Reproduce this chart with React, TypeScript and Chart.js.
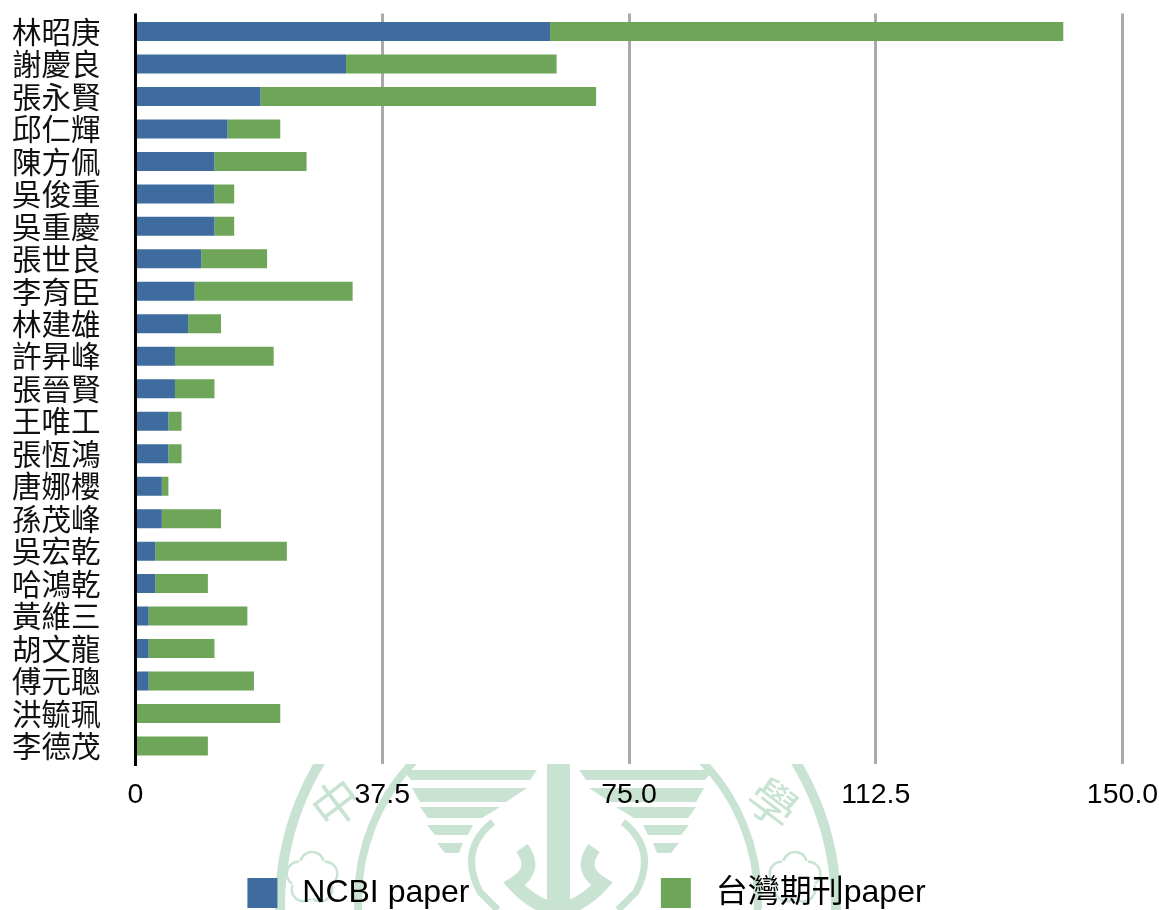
import React, { useEffect, useRef } from "react";
import { Chart, registerables } from "chart.js";

Chart.register(...registerables);

const authors = ["林昭庚","謝慶良","張永賢","邱仁輝","陳方佩","吳俊重","吳重慶","張世良","李育臣","林建雄","許昇峰","張晉賢","王唯工","張恆鴻","唐娜櫻","孫茂峰","吳宏乾","哈鴻乾","黃維三","胡文龍","傅元聰","洪毓珮","李德茂"];
const ncbiPapers = [63,32,19,14,12,12,12,10,9,8,6,6,5,5,4,4,3,3,2,2,2,0,0];
const taiwanPapers = [78,32,51,8,14,3,3,10,24,5,15,6,2,2,1,9,20,8,15,10,16,22,11];
const xTickLabels = ["0","37.5","75.0","112.5","150.0"];
const seriesNames = ["NCBI paper","台灣期刊paper"];
const seriesColors = ["#3e6c9f","#6ea559"];

const CJK = '"Liberation Sans", "Noto Sans CJK TC", sans-serif';
const MARK = "#c9e3d3";

// Faint seal showing through below the plot
const sealPlugin = {
  id: "seal",
  beforeDraw(chart: any) {
    const { ctx, width, height } = chart;
    ctx.save();
    ctx.fillStyle = "#fff";
    ctx.fillRect(0, 0, width, height);
    ctx.beginPath();
    ctx.rect(0, 764, width, height - 764);
    ctx.clip();
    ctx.strokeStyle = MARK;
    ctx.fillStyle = MARK;
    const cx = 558;
    ctx.lineWidth = 10;
    ctx.beginPath(); ctx.arc(cx, 906, 278, 0, Math.PI * 2); ctx.stroke();
    ctx.lineWidth = 8;
    ctx.beginPath(); ctx.arc(cx, 900, 200, 0, Math.PI * 2); ctx.stroke();
    const bands = [[770,780,155,21,28],[788,802,146,31,52],[807,818,138,58,76],[825,835,131,85,90],[843,853,121,95,99]];
    for (const [t, b, o, i, i2] of bands) {
      for (const s of [-1, 1]) {
        ctx.beginPath();
        ctx.moveTo(cx + s * o, t);
        ctx.lineTo(cx + s * i, t);
        ctx.lineTo(cx + s * i2, b);
        ctx.lineTo(cx + s * (o - 8), b);
        ctx.closePath();
        ctx.fill();
      }
    }
    ctx.fillRect(547, 764, 23, 146);
    ctx.lineWidth = 7;
    for (const s of [-1, 1]) {
      ctx.beginPath();
      ctx.moveTo(cx + s * 65, 822);
      ctx.quadraticCurveTo(cx + s * 100, 850, cx + s * 78, 892);
      ctx.lineTo(cx + s * 60, 910);
      ctx.stroke();
    }
    ctx.lineWidth = 14;
    for (const s of [-1, 1]) {
      ctx.beginPath();
      ctx.moveTo(cx + s * 36, 848);
      ctx.quadraticCurveTo(cx + s * 20, 870, cx + s * 44, 884);
      ctx.quadraticCurveTo(cx + s * 30, 900, cx + s * 10, 908);
      ctx.stroke();
    }
    ctx.lineWidth = 2.5;
    for (const fx of [312, 795]) {
      for (let k = 0; k < 5; k++) {
        const a = -Math.PI / 2 + (k * 2 * Math.PI) / 5;
        ctx.beginPath();
        ctx.arc(fx + Math.cos(a) * 14, 878 + Math.sin(a) * 14, 12, a - 1.3, a + 1.3);
        ctx.stroke();
      }
    }
    ctx.textAlign = "center";
    ctx.textBaseline = "middle";
    ctx.font = '48px "Noto Sans CJK TC"';
    ctx.translate(336, 803);
    ctx.rotate(-0.65);
    ctx.fillText("中", 0, 0);
    ctx.rotate(0.65);
    ctx.translate(437, 0);
    ctx.rotate(0.65);
    ctx.fillText("學", 0, 0);
    ctx.restore();
  },
};

// Axis and grid lines run slightly past the category band, as in the source
const axisRunPlugin = {
  id: "axisRun",
  afterDatasetsDraw(chart: any) {
    const { ctx, scales, chartArea } = chart;
    ctx.save();
    ctx.strokeStyle = "#aaaaaa";
    ctx.lineWidth = 3;
    scales.x.ticks.forEach((t: any, i: number) => {
      if (i === 0) return;
      const px = Math.floor(scales.x.getPixelForValue(t.value)) + 0.5;
      ctx.beginPath(); ctx.moveTo(px, 13.5); ctx.lineTo(px, chartArea.top + 1); ctx.stroke();
      ctx.beginPath(); ctx.moveTo(px, chartArea.bottom - 1); ctx.lineTo(px, 764); ctx.stroke();
    });
    ctx.strokeStyle = "#000";
    const x0 = Math.floor(scales.x.getPixelForValue(0)) + 0.5;
    ctx.beginPath(); ctx.moveTo(x0, 13.5); ctx.lineTo(x0, 766); ctx.stroke();
    ctx.restore();
  },
};

export default function App() {
  const ref = useRef<HTMLCanvasElement | null>(null);
  useEffect(() => {
    const chart = new Chart(ref.current as HTMLCanvasElement, {
      type: "bar",
      data: {
        labels: authors,
        datasets: [
          { label: seriesNames[0], data: ncbiPapers, backgroundColor: seriesColors[0] },
          { label: seriesNames[1], data: taiwanPapers, backgroundColor: seriesColors[1] },
        ],
      },
      plugins: [sealPlugin, axisRunPlugin],
      options: {
        indexAxis: "y",
        responsive: false,
        animation: false,
        datasets: { bar: { categoryPercentage: 1, barPercentage: 0.585 } },
        layout: { padding: { left: 0, top: 15.25, right: -14, bottom: -9 } },
        plugins: {
          tooltip: { enabled: false },
          legend: {
            position: "bottom",
            labels: {
              boxWidth: 30,
              boxHeight: 30,
              padding: 2,
              color: "#000",
              font: { family: CJK, size: 32 },
              generateLabels(c: any) {
                return c.data.datasets.map((d: any, i: number) => ({
                  text: " " + d.label + (i === 0 ? " ".repeat(21) + "\u200a" : ""),
                  fillStyle: d.backgroundColor,
                  strokeStyle: d.backgroundColor,
                  lineWidth: 0,
                  datasetIndex: i,
                }));
              },
            },
          },
        },
        scales: {
          x: {
            type: "linear",
            stacked: true,
            min: 0,
            max: 150,
            afterFit(s: any) { s.height = 112.75; s.paddingLeft = 0; s.paddingRight = 36.5; },
            grid: { color: "#aaaaaa", lineWidth: 3, drawTicks: false },
            border: { display: false },
            ticks: {
              stepSize: 37.5,
              padding: 16,
              maxRotation: 0,
              color: "#000",
              font: { family: CJK, size: 28.5 },
              callback: (_v: any, i: number) => xTickLabels[i],
            },
          },
          y: {
            stacked: true,
            afterFit(s: any) { s.width = 135.5; s.paddingTop = 0; s.paddingBottom = 0; },
            grid: { display: false },
            border: { display: false },
            ticks: {
              padding: 27,
              autoSkip: false,
              color: "#111",
              font: { family: '"Noto Sans CJK TC", sans-serif', size: 29.5 },
            },
          },
        },
      },
    } as any);
    return () => chart.destroy();
  }, []);
  return (
    <canvas
      ref={ref}
      width={1159}
      height={910}
      style={{ position: "fixed", left: 0, top: 0, width: 1159, height: 910, display: "block" }}
    />
  );
}
